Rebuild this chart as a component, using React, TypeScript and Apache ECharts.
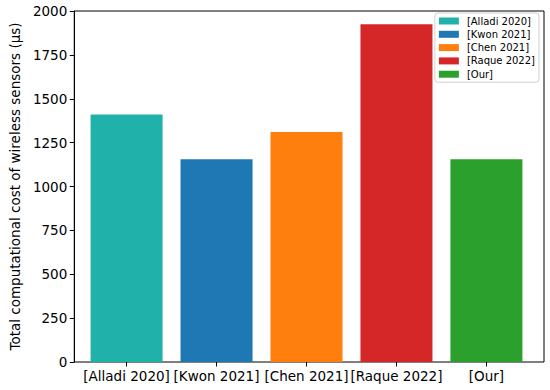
import React, { useEffect, useRef } from "react";
import * as echarts from "echarts";

const categories = ["[Alladi 2020]", "[Kwon 2021]", "[Chen 2021]", "[Raque 2022]", "[Our]"];
const costValues = [1410, 1155, 1310, 1925, 1155];
const barColors = ["#20b2aa", "#1f77b4", "#ff7f0e", "#d62728", "#2ca02c"];
const yTicks = [0, 250, 500, 750, 1000, 1250, 1500, 1750, 2000];

const FONT = "DejaVu Sans";

export default function App() {
  const ref = useRef<HTMLDivElement>(null);
  useEffect(() => {
    if (!ref.current) return;
    const chart = echarts.init(ref.current, undefined, { renderer: "svg" });
    chart.setOption({
      animation: false,
      backgroundColor: "#ffffff",
      textStyle: { fontFamily: FONT },
      grid: [
        {
          left: 69,
          right: 6,
          top: 11,
          bottom: 28,
          show: true,
          borderColor: "#000",
          borderWidth: 1,
          backgroundColor: "transparent",
        },
        { left: 81.6, right: 18.6, top: 11, bottom: 28 },
      ],
      legend: {
        orient: "vertical",
        right: 11,
        top: 13,
        padding: [3, 4, 3, 4],
        itemWidth: 20,
        itemHeight: 7,
        itemGap: 3.3,
        icon: "rect",
        backgroundColor: "#fff",
        borderColor: "#d0d0d0",
        borderWidth: 1,
        borderRadius: 3,
        textStyle: { fontFamily: FONT, fontSize: 10, color: "#000", lineHeight: 10, padding: [0, 0, 0, 3] },
        data: categories,
      },
      xAxis: [
        { type: "value", gridIndex: 0, show: false, min: 0, max: 1 },
        {
          type: "category",
          gridIndex: 1,
          data: categories,
          boundaryGap: true,
          axisLine: { show: false },
          axisTick: { show: true, alignWithLabel: true, length: 4.5, lineStyle: { color: "#000" } },
          axisLabel: { fontFamily: FONT, fontSize: 13.5, color: "#000", margin: 7, interval: 0 },
          splitLine: { show: false },
        },
      ],
      yAxis: [
        {
          type: "value",
          gridIndex: 0,
          min: 0,
          max: 2000,
          interval: 250,
          name: "Total computational cost of wireless sensors (μs)",
          nameLocation: "middle",
          nameGap: 52,
          nameTextStyle: { fontFamily: FONT, fontSize: 13.5, color: "#000" },
          splitLine: { show: false },
          axisLine: { show: true, onZero: false, lineStyle: { color: "#000", width: 1 } },
          axisTick: { show: true, length: 4.5, lineStyle: { color: "#000" } },
          axisLabel: {
            fontFamily: FONT,
            fontSize: 13.5,
            color: "#000",
            margin: 7,
            formatter: (v: number) => (yTicks.includes(v) ? String(v) : ""),
          },
        },
        { type: "value", gridIndex: 1, show: false, min: 0, max: 2000 },
      ],
      series: categories.map((name, i) => ({
        name,
        type: "bar",
        xAxisIndex: 1,
        yAxisIndex: 1,
        barWidth: 72,
        barGap: "-100%",
        itemStyle: { color: barColors[i] },
        data: categories.map((_, j) => (j === i ? costValues[i] : "-")),
      })),
    });
    return () => chart.dispose();
  }, []);
  return <div ref={ref} style={{ width: 550, height: 390, position: "absolute", left: 0, top: 0 }} />;
}
